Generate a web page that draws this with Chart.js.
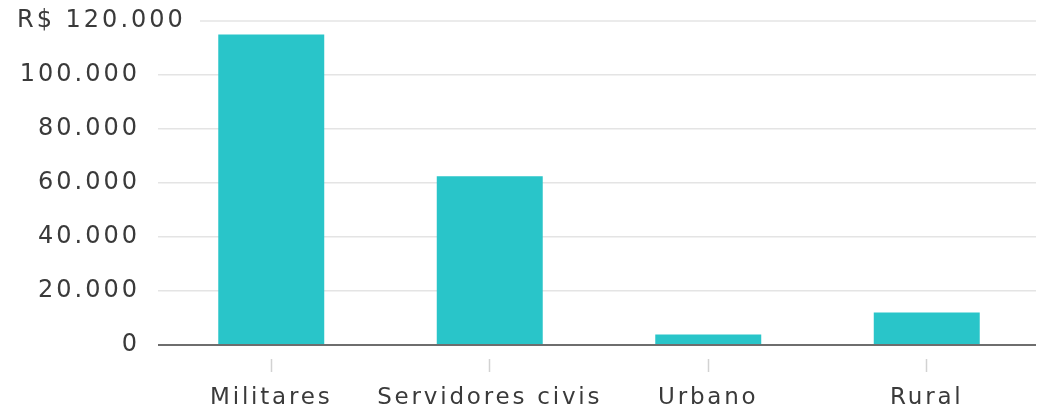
<!DOCTYPE html>
<html>
<head>
<meta charset="utf-8">
<script src="https://cdn.jsdelivr.net/npm/chart.js@4.4.1/dist/chart.umd.min.js"></script>
<style>
  html, body { margin: 0; padding: 0; background: #fff; }
  #wrap { width: 1037px; height: 407px; position: relative; }
</style>
</head>
<body>
<div id="wrap"><canvas id="chart"></canvas></div>
<script>
// Data
const categories = ['Militares', 'Servidores civis', 'Urbano', 'Rural'];
const values = [115000, 62500, 3900, 12000];
const yTicks = [0, 20000, 40000, 60000, 80000, 100000, 120000];
const yTickLabels = ['0', '20.000', '40.000', '60.000', '80.000', '100.000', 'R$ 120.000'];

const TEXT = '#3a3a3a';
const FONT = '"DejaVu Sans", sans-serif';

// y labels: right aligned, except the top one which sits at the left edge
const yLabels = {
    id: 'yLabels',
    beforeDraw(chart) {
        chart.ctx.letterSpacing = '2.8px';
    },
    afterDraw(chart) {
        const ctx = chart.ctx;
        const y = chart.scales.y;
        const area = chart.chartArea;
        ctx.save();
        ctx.letterSpacing = '3px';
        ctx.font = '24px ' + FONT;
        ctx.fillStyle = TEXT;
        ctx.textBaseline = 'middle';
        yTicks.forEach((v, i) => {
            const py = y.getPixelForValue(v);
            if (i === yTicks.length - 1) {
                ctx.textAlign = 'left';
                ctx.fillText(yTickLabels[i], 17, py);
                // top grid line starts after the wider label
                ctx.strokeStyle = '#e4e4e4';
                ctx.lineWidth = 1.5;
                ctx.beginPath();
                ctx.moveTo(200, py);
                ctx.lineTo(area.right, py);
                ctx.stroke();
            } else {
                ctx.textAlign = 'right';
                ctx.fillText(yTickLabels[i], 140, py);
            }
        });
        ctx.restore();
    }
};

new Chart(document.getElementById('chart'), {
    type: 'bar',
    data: {
        labels: categories,
        datasets: [{
            data: values,
            backgroundColor: '#29c5c9',
            borderWidth: 0,
            categoryPercentage: 1,
            barPercentage: 0.485
        }]
    },
    options: {
        responsive: true,
        maintainAspectRatio: false,
        animation: false,
        layout: { padding: { top: 21, right: 1, left: 0, bottom: 0 } },
        plugins: {
            legend: { display: false },
            tooltip: { enabled: false }
        },
        scales: {
            x: {
                offset: true,
                border: { display: false },
                grid: {
                    offset: false,
                    drawOnChartArea: false,
                    drawTicks: true,
                    tickLength: 27,
                    tickColor: '#d2d2d2',
                    tickWidth: 1.5,
                    tickBorderDash: [0, 14, 13, 100]
                },
                ticks: {
                    color: TEXT,
                    padding: 12,
                    font: { family: FONT, size: 23 },
                    maxRotation: 0,
                    autoSkip: false
                },
                afterFit(scale) { scale.height = 62; }
            },
            y: {
                min: 0,
                max: 120000,
                border: { display: false },
                afterBuildTicks(scale) {
                    scale.ticks = yTicks.map(v => ({ value: v }));
                },
                grid: {
                    drawTicks: true,
                    tickLength: 4,
                    color: ctx => ctx.tick.value === 0 ? '#6e6e6e'
                        : ctx.tick.value === 120000 ? 'rgba(0,0,0,0)' : '#e4e4e4',
                    lineWidth: ctx => ctx.tick.value === 0 ? 2 : 1.5
                },
                ticks: { display: false },
                afterFit(scale) { scale.width = 162; }
            }
        }
    },
    plugins: [yLabels]
});
</script>
</body>
</html>
